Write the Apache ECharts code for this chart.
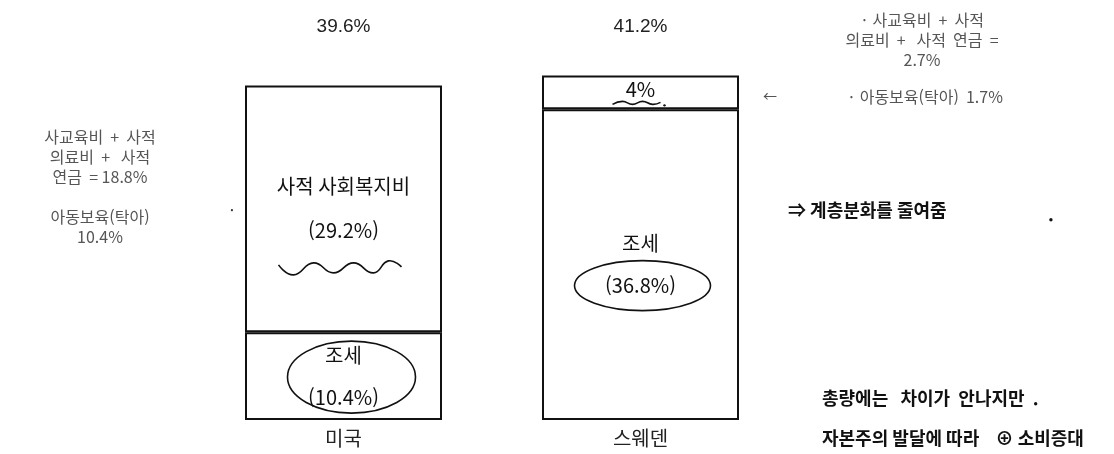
<!DOCTYPE html>
<html lang="ko" style="height: 100%">
<head>
  <meta charset="utf-8">
</head>
<body style="height: 100%; margin: 0; background: #fff">
  <div id="container" style="height: 100%"></div>

  <script type="text/javascript" src="https://cdn.jsdelivr.net/npm/echarts@6/dist/echarts.min.js"></script>

  <script type="text/javascript">
    // 국가별 사회복지 지출 구성 (GDP 대비 %)
    var countries = ['미국', '스웨덴'];
    var taxShare = [10.4, 36.8];      // 조세
    var privateShare = [29.2, 4.0];   // 사적 사회복지비
    var totals = [39.6, 41.2];

    var leftNote = ['사교육비  +  사적', '의료비  +   사적', '연금  = 18.8%', '', '아동보육(탁아)', '10.4%'];
    var rightNote = ['· 사교육비  +  사적', '의료비  +   사적  연금  =', '2.7%'];
    var rightNote2 = '· 아동보육(탁아)  1.7%';
    var handNote1 = '⇒ 계층분화를 줄여줌';
    var handNote2 = ['총량에는   차이가  안나지만  .', '자본주의 발달에 따라    ⊕ 소비증대'];

    var dom = document.getElementById('container');
    var myChart = echarts.init(dom, null, { renderer: 'canvas' });

    var KR = '"Noto Sans CJK KR", "Noto Sans", sans-serif';
    var boxStyle = { color: '#fff', borderColor: '#111', borderWidth: 2 };

    var option = {
      backgroundColor: '#fff',
      animation: false,
      grid: { left: 195, width: 594, top: 40, bottom: 34 },
      xAxis: {
        type: 'category',
        data: countries,
        axisLine: { show: false },
        axisTick: { show: false },
        axisLabel: { fontFamily: KR, fontSize: 20, color: '#222', margin: 8 }
      },
      yAxis: { type: 'value', min: 0, max: 45, show: false, splitLine: { show: false } },
      series: [
        {
          name: '조세',
          type: 'bar',
          stack: 'total',
          barWidth: 197,
          data: taxShare,
          itemStyle: boxStyle,
          label: {
            show: true,
            position: 'inside',
            fontFamily: KR,
            fontSize: 20,
            lineHeight: 42,
            color: '#111',
            formatter: function (p) { return '조세\n(' + p.value.toFixed(1) + '%)'; }
          }
        },
        {
          name: '사적 사회복지비',
          type: 'bar',
          stack: 'total',
          barWidth: 197,
          data: privateShare.map(function (v, i) {
            // 스웨덴 칸은 좁아서 글자를 약간 위로
            return i === 1 ? { value: v, label: { offset: [0, -3] } } : v;
          }),
          itemStyle: boxStyle,
          label: {
            show: true,
            position: 'inside',
            fontFamily: KR,
            fontSize: 20,
            lineHeight: 44,
            color: '#111',
            formatter: function (p) {
              if (p.dataIndex === 0) return '사적 사회복지비\n(' + p.value.toFixed(1) + '%)';
              return p.value.toFixed(0) + '%';
            }
          }
        }
      ]
    };
    myChart.setOption(option);

    // 주석 (합계, 메모, 손글씨 표시)
    function px(i, v) { return myChart.convertToPixel({ gridIndex: 0 }, [i, v]); }

    var g = [];
    totals.forEach(function (t, i) {
      g.push({
        type: 'text', x: px(i, 0)[0], y: 27,
        style: { text: t.toFixed(1) + '%', fontFamily: 'Liberation Sans, Arial, sans-serif', fontSize: 19,
                 fill: '#222', align: 'center', verticalAlign: 'middle' }
      });
    });

    var noteStyle = { fontFamily: KR, fontSize: 16, fill: '#555', align: 'center', verticalAlign: 'middle' };
    leftNote.forEach(function (s, k) {
      g.push({ type: 'text', x: 100, y: 137 + k * 20, style: Object.assign({ text: s }, noteStyle) });
    });
    rightNote.forEach(function (s, k) {
      g.push({ type: 'text', x: 922, y: 20 + k * 20, style: Object.assign({ text: s }, noteStyle) });
    });
    g.push({ type: 'text', x: 925, y: 97, style: Object.assign({ text: rightNote2 }, noteStyle) });
    g.push({ type: 'text', x: 770, y: 96, style: Object.assign({}, noteStyle, { text: '←', fontSize: 14 }) });
    g.push({ type: 'text', x: 232, y: 210, style: Object.assign({}, noteStyle, { text: '·', fill: '#333' }) });

    var handStyle = { fontFamily: KR, fontSize: 18, fill: '#111', verticalAlign: 'middle', fontWeight: 'bold' };
    g.push({ type: 'text', x: 788, y: 210, style: Object.assign({ text: handNote1 }, handStyle) });
    g.push({ type: 'text', x: 1048, y: 214, style: Object.assign({ text: '.' }, handStyle) });
    handNote2.forEach(function (s, k) {
      g.push({ type: 'text', x: 822, y: 398 + k * 40, style: Object.assign({ text: s }, handStyle, { fontSize: 18 }) });
    });

    // 손으로 그린 타원과 물결선 (막대 위에 그려야 하므로 z 를 높게)
    var usTax = px(0, taxShare[0] / 2);
    var swTax = px(1, taxShare[1] / 2);
    var usPriv = px(0, taxShare[0] + privateShare[0] / 2);
    var swPriv = px(1, taxShare[1] + privateShare[1] / 2);
    function pen() { return { stroke: '#111', lineWidth: 1.6, fill: null }; }

    g.push({ type: 'ellipse', z: 100, shape: { cx: usTax[0] + 8, cy: usTax[1] + 1, rx: 64, ry: 36 },
             style: pen() });
    g.push({ type: 'ellipse', z: 100, shape: { cx: swTax[0] + 2, cy: swTax[1] + 21, rx: 68, ry: 25 },
             style: pen() });

    var w1 = [];
    var wavy1 = [[-65, 4], [-50, 14], [-30, 2], [-10, 12], [10, 2], [30, 12], [45, 0], [58, 6]];
    wavy1.forEach(function (d) { w1.push([usPriv[0] + d[0], usPriv[1] + 52 + d[1]]); });
    g.push({ type: 'polyline', z: 100, shape: { points: w1, smooth: 0.5 }, style: pen() });

    var w2 = [];
    var wavy2 = [[-28, 1], [-18, -2], [-8, 1], [2, -2], [12, 1], [20, -1]];
    wavy2.forEach(function (d) { w2.push([swPriv[0] + d[0], swPriv[1] + 11 + d[1]]); });
    g.push({ type: 'polyline', z: 100, shape: { points: w2, smooth: 0.5 }, style: pen() });
    g.push({ type: 'circle', z: 100, shape: { cx: swPriv[0] + 24, cy: swPriv[1] + 13, r: 1.2 },
             style: { fill: '#111' } });

    myChart.setOption({ graphic: g });

    window.addEventListener('resize', myChart.resize);
  </script>
</body>
</html>
